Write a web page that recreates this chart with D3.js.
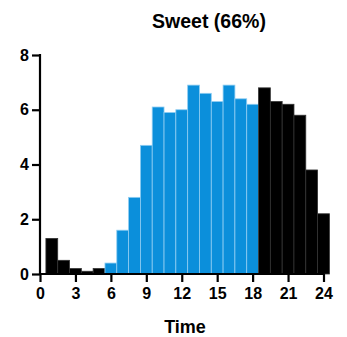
<!DOCTYPE html>
<html>
<head>
<meta charset="utf-8">
<script src="https://cdn.jsdelivr.net/npm/d3@7"></script>
<style>
  html, body { margin: 0; padding: 0; background: #fff; }
  svg { display: block; }
  text { font-family: "Liberation Sans", Arial, sans-serif; font-weight: bold; fill: #000; }
</style>
</head>
<body>
<svg id="chart" width="347" height="337"></svg>
<script>
// Hourly bins (bar centred on the hour number)
const hours = [1, 2, 3, 4, 5, 6, 7, 8, 9, 10, 11, 12, 13, 14, 15, 16, 17, 18, 19, 20, 21, 22, 23, 24];
const values = [1.3, 0.5, 0.2, 0.1, 0.2, 0.4, 1.6, 2.8, 4.7, 6.1, 5.9, 6.0, 6.9, 6.6, 6.3, 6.9, 6.4, 6.2, 6.8, 6.3, 6.2, 5.8, 3.8, 2.2];
// Daytime window highlighted in blue
const dayStart = 6, dayEnd = 18;
const xTicks = [0, 3, 6, 9, 12, 15, 18, 21, 24];
const yTicks = [0, 2, 4, 6, 8];
const title = "Sweet (66%)";
const xTitle = "Time";

const svg = d3.select("#chart");
const x = d3.scaleLinear().domain([0, 24]).range([40, 323.5]);
const y = d3.scaleLinear().domain([0, 8]).range([274, 55]);

const data = hours.map((h, i) => ({ h, v: values[i] }));

svg.append("g").selectAll("rect").data(data).join("rect")
  .attr("x", d => x(d.h - 0.5))
  .attr("y", d => y(d.v))
  .attr("width", d => x(d.h + 0.5) - x(d.h - 0.5))
  .attr("height", d => y(0) - y(d.v))
  .attr("fill", d => (d.h >= dayStart && d.h <= dayEnd) ? "#0b8fdb" : "#000")
  .attr("stroke", d => (d.h >= dayStart && d.h <= dayEnd) ? "#8fcdf2" : "#333")
  .attr("stroke-width", 0.8);

const xAxis = svg.append("g")
  .attr("transform", `translate(0,${y(0)})`)
  .call(d3.axisBottom(x).tickValues(xTicks).tickSize(8).tickPadding(6).tickSizeOuter(0));
const yAxis = svg.append("g")
  .attr("transform", `translate(${x(0)},0)`)
  .call(d3.axisLeft(y).tickValues(yTicks).tickSize(8).tickPadding(3).tickSizeOuter(0));

[xAxis, yAxis].forEach(g => {
  g.select(".domain").attr("stroke", "#000").attr("stroke-width", 2.2);
  g.selectAll(".tick line").attr("stroke", "#000").attr("stroke-width", 2.2);
  g.selectAll(".tick text").style("font-size", "16px").style("font-weight", "bold")
    .style("font-family", "'Liberation Sans', Arial, sans-serif").attr("fill", "#000");
});
xAxis.select(".domain").attr("d", `M${x(0) - 1},0H${x(24) + 1}`);
yAxis.select(".domain").attr("d", `M0,${y(8) - 1}V${y(0) + 1}`);

svg.append("text")
  .attr("x", 209).attr("y", 28)
  .attr("text-anchor", "middle")
  .style("font-size", "19.5px")
  .text(title);

svg.append("text")
  .attr("x", 185).attr("y", 333)
  .attr("text-anchor", "middle")
  .style("font-size", "18px")
  .text(xTitle);
</script>
</body>
</html>
